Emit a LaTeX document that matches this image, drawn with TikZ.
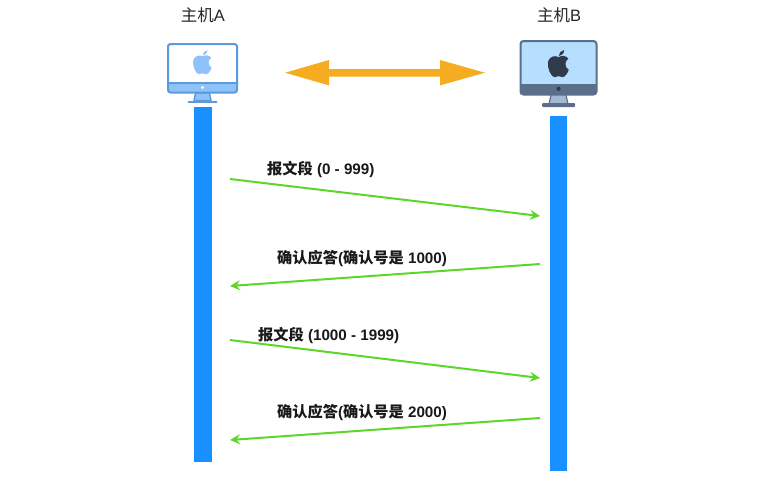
\documentclass[tikz,border=0pt]{standalone}
\usepackage{fontspec}
\setmainfont{Liberation Sans}
\newfontfamily\cjk{Noto Sans CJK SC}
\usetikzlibrary{arrows.meta}
\definecolor{barblue}{HTML}{1890FF}
\definecolor{flowgreen}{HTML}{5CD62B}
\definecolor{amber}{HTML}{F5AC20}
\definecolor{aline}{HTML}{5B9BDC}
\definecolor{afill}{HTML}{8FC2FA}
\definecolor{bline}{HTML}{5C6F8A}
\definecolor{bscreen}{HTML}{B5DEFF}
\definecolor{bdark}{HTML}{2F3A4A}
\definecolor{bstand}{HTML}{A3B8D2}
\newcommand{\applelogo}[4]{%
 \fill[#4,shift={(#1,#2)},scale=#3]
  (0,-5.2) .. controls (-2,-6.6) and (-7,-6.4) .. (-8,-1.2)
  .. controls (-8.6,3) and (-5.6,10) .. (-3,10)
  .. controls (-1.8,10) and (-1,9.2) .. (0,9.2)
  .. controls (1,9.2) and (1.8,10) .. (3,10)
  .. controls (5,10) and (7,6.6) .. (7.8,4.4)
  .. controls (4.6,3) and (4.4,-2.4) .. (7.4,-4)
  .. controls (6,-6.4) and (2.4,-6.8) .. (0,-5.2) -- cycle
  (0.2,-6.2) .. controls (0.2,-8.4) and (2,-10.2) .. (4.2,-10.6)
  .. controls (4.4,-8.2) and (2.6,-6.4) .. (0.2,-6.2) -- cycle;
}
\tikzset{
 bar/.style={fill=barblue,draw=none},
 flow/.style={draw=flowgreen,line width=2pt,-{Stealth[length=10pt,width=10pt,inset=3.5pt]}},
 hostlabel/.style={font=\fontsize{16.5}{18}\selectfont,text=black!85,inner sep=0pt},
 msg/.style={font=\fontsize{15.2}{18}\selectfont\bfseries,text=black!90,inner sep=0pt,anchor=west},
}
\begin{document}
\begin{tikzpicture}[x=1pt,y=-1pt]
\useasboundingbox (0,0) rectangle (774,483);
% labels
\node[hostlabel] (hostA) at (203,15) {\cjk 主机\rmfamily A};
\node[hostlabel] (hostB) at (559,15) {\cjk 主机\rmfamily B};
% monitor A
\filldraw[draw=aline,fill=afill,line width=1.4pt,line join=round] (195.5,93) -- (209.5,93) -- (211,100.5) -- (194,100.5) -- cycle;
\draw[aline,line width=2pt,line cap=round] (188.5,101.5) -- (216.5,101.5);
\fill[white,rounded corners=2.5pt] (168,44) rectangle (237,92.5);
\fill[afill,rounded corners=2.5pt] (168,83) rectangle (237,92.5);
\fill[afill] (168,83) rectangle (237,86);
\draw[aline,line width=2pt,rounded corners=2.5pt] (168,44) rectangle (237,92.5);
\draw[aline,line width=1.6pt] (168,83) -- (237,83);
\fill[white] (202.5,87.5) circle (1.7);
\applelogo{202.5}{62.5}{1.17}{afill}
% monitor B
\fill[bstand] (551,95) -- (566,95) -- (568,104) -- (549,104) -- cycle;
\draw[bline,line width=1.2pt] (551,95) -- (549,104) (566,95) -- (568,104);
\fill[bline,rounded corners=1pt] (542,103) rectangle (575,107);
\fill[bscreen,rounded corners=3pt] (520.5,41) rectangle (596.5,94.5);
\fill[bline,rounded corners=3pt] (520.5,84) rectangle (596.5,94.5);
\fill[bline] (520.5,84) rectangle (596.5,88);
\draw[bline,line width=2pt,rounded corners=3pt] (520.5,41) rectangle (596.5,94.5);
\fill[bdark] (558.5,88.8) circle (2.1);
\applelogo{558.5}{64}{1.32}{bdark}
% double arrow
\coordinate (la) at (285,72.7);
\coordinate (ra) at (485,72.7);
\fill[amber] (la) -- (329,60) -- (329,69) -- (440,69) -- (440,60) -- (ra) -- (440,85.4) -- (440,76.6) -- (329,76.6) -- (329,85.4) -- cycle;
% lifelines
\fill[bar] (194,107) rectangle (212,462);
\fill[bar] (550,116) rectangle (567,471);
% connectors
\coordinate (m1a) at (230,179); \coordinate (m1b) at (540,216);
\coordinate (m2a) at (540,264); \coordinate (m2b) at (230,286);
\coordinate (m3a) at (230,340); \coordinate (m3b) at (540,378);
\coordinate (m4a) at (540,418); \coordinate (m4b) at (230,440);
\draw[flow] (m1a) -- (m1b);
\draw[flow] (m2a) -- (m2b);
\draw[flow] (m3a) -- (m3b);
\draw[flow] (m4a) -- (m4b);
% messages
\node[msg] (t1) at (267,169) {{\cjk\bfseries 报文段} (0 - 999)};
\node[msg] (t2) at (277,258) {{\cjk\bfseries 确认应答}({\cjk\bfseries 确认号是} 1000)};
\node[msg] (t3) at (258,335) {{\cjk\bfseries 报文段} (1000 - 1999)};
\node[msg] (t4) at (277,412) {{\cjk\bfseries 确认应答}({\cjk\bfseries 确认号是} 2000)};
\end{tikzpicture}
\end{document}
